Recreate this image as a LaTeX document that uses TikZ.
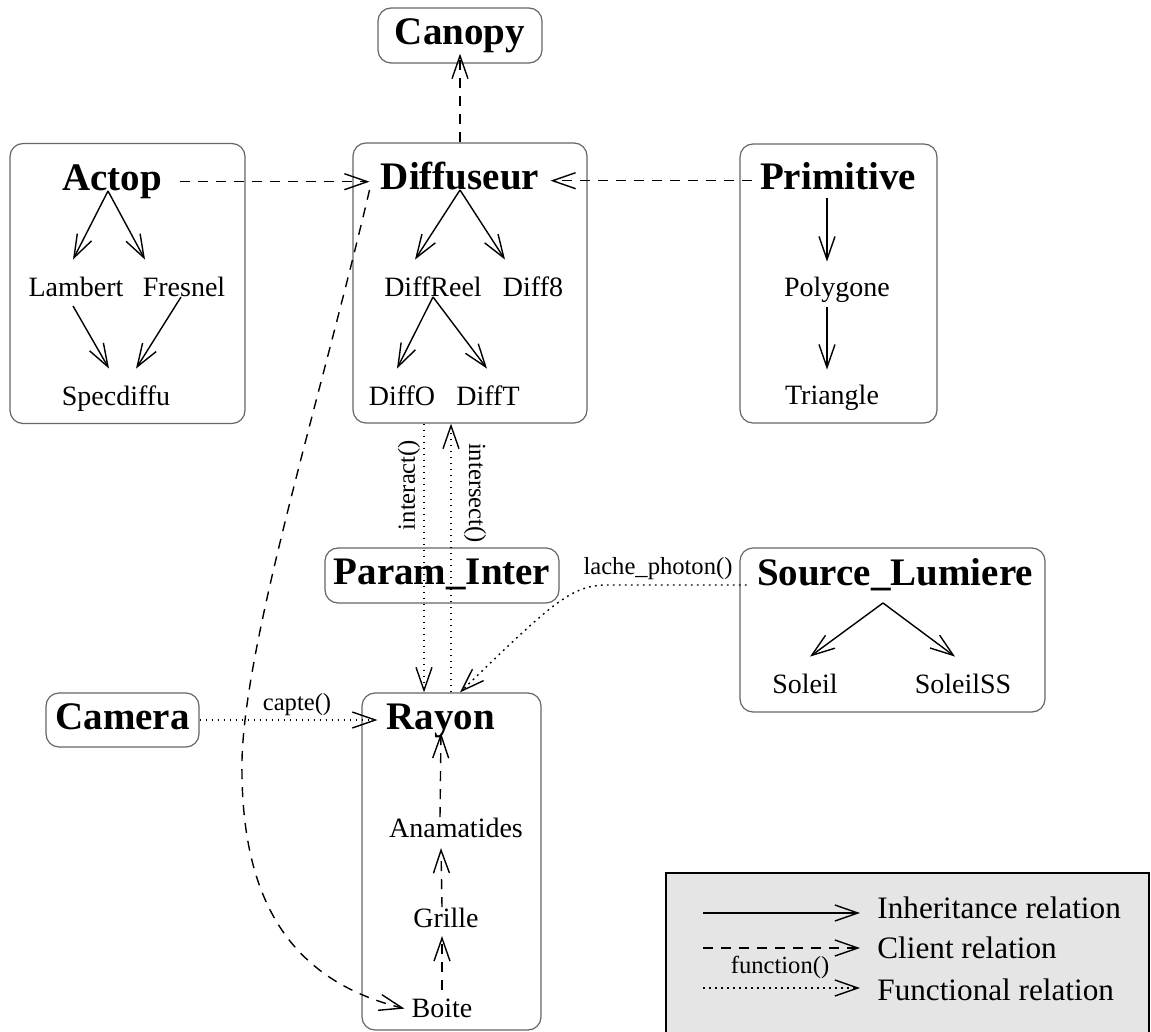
\documentclass[tikz,border=0pt]{standalone}
\usepackage{fontspec}
\setmainfont{Liberation Serif}
\usetikzlibrary{arrows.meta}
\begin{document}
\begin{tikzpicture}[x=0.5pt,y=-0.5pt,
  frame/.style={draw=black!60, line width=0.6pt, rounded corners=6.5pt},
  boxed/.style={frame, font=\fontsize{19.5}{22}\selectfont\bfseries, inner sep=0pt, text height=13.6pt, text depth=4.3pt},
  bigtxt/.style={font=\fontsize{19.5}{22}\selectfont\bfseries, inner sep=0pt, text height=13.6pt, text depth=4.3pt, anchor=base},
  txt/.style={font=\fontsize{14}{16}\selectfont, inner sep=0pt, text height=9.8pt, text depth=3.1pt, anchor=base},
  fnlbl/.style={font=\fontsize{12.3}{14}\selectfont, inner sep=0pt},
  legtxt/.style={font=\fontsize{15.6}{18}\selectfont, inner sep=0pt, anchor=base west},
  barb/.style={-{Straight Barb[length=11.5pt,width=8pt]}},
  inh/.style={barb, line width=0.7pt},
  cli/.style={inh, dash pattern=on 5pt off 4pt},
  fun/.style={inh, dash pattern=on 0.9pt off 2.1pt},
]
\fill[white] (0,0) rectangle (1151,1032);
\useasboundingbox (0,0) rectangle (1151,1032);

% frames
\node[frame, minimum width=117.5pt, minimum height=140pt] (abox) at (127.5,283.5) {};
\node[frame, minimum width=117pt, minimum height=140pt] (dbox) at (470,283) {};
\node[frame, minimum width=98.5pt, minimum height=139.5pt] (pbox) at (838.5,283.5) {};
\node[frame, minimum width=152.5pt, minimum height=82pt] (sbox) at (892.5,630) {};
\node[frame, minimum width=89.5pt, minimum height=168.5pt] (rbox) at (451.5,861.5) {};
\node[boxed, minimum width=82pt, minimum height=27.5pt] (canopy) at (460,35.5) {Canopy};
\node[boxed, minimum width=76.5pt, minimum height=27pt] (camera) at (122.5,720) {Camera};
\node[boxed, minimum width=117pt, minimum height=27.5pt] (param) at (442,575.5) {Param\_Inter};

% legend box
\draw[line width=0.6pt, fill=black!10] (666,873) rectangle (1149,1045);

% labels
\node[bigtxt] (actop) at (112,191) {Actop};
\node[bigtxt] (diff) at (460,190) {Diffuseur};
\node[bigtxt] (prim) at (838,190) {Primitive};
\node[bigtxt] (src) at (895,585) {Source\_Lumiere};
\node[bigtxt] (rayon) at (441,729) {Rayon};

\node[txt] (lambert) at (76,297) {Lambert};
\node[txt] (fresnel) at (184,297) {Fresnel};
\node[txt] (specdiffu) at (116,405) {Specdiffu};
\node[txt] (diffreel) at (433,297) {DiffReel};
\node[txt] (diff8) at (533,297) {Diff8};
\node[txt] (diffo) at (402,405) {DiffO};
\node[txt] (difft) at (488,405) {DiffT};
\node[txt] (polygone) at (837,297) {Polygone};
\node[txt] (triangle) at (832,404) {Triangle};
\node[txt] (soleil) at (805,693) {Soleil};
\node[txt] (soleilss) at (963,693) {SoleilSS};
\node[txt] (anamatides) at (456,837) {Anamatides};
\node[txt] (grille) at (446,927) {Grille};
\node[txt] (boite) at (442,1017) {Boite};

\node[fnlbl, rotate=90] (linteract) at (409,485) {interact()};
\node[fnlbl, rotate=-90] (lintersect) at (475,493) {intersect()};
\node[fnlbl] (llache) at (658,569) {lache\_photon()};
\node[fnlbl] (lcapte) at (297,705) {capte()};

% inheritance
\draw[inh] ([xshift=-2pt]actop.base) -- ([shift={(-1.5pt,8.7pt)}]lambert.north);
\draw[inh] ([xshift=-2pt]actop.base) -- ([shift={(-19.5pt,8.7pt)}]fresnel.north);
\draw[inh] ([shift={(-1.5pt,-4.5pt)}]lambert.base) -- ([shift={(-3.5pt,8.2pt)}]specdiffu.north);
\draw[inh] ([xshift=-1.5pt]fresnel.base) -- ([shift={(10pt,8.2pt)}]specdiffu.north);
\draw[inh] (diff.base) -- ([shift={(-9pt,8.7pt)}]diffreel.north);
\draw[inh] (diff.base) -- ([shift={(-14pt,8.7pt)}]diff8.north);
\draw[inh] (diffreel.base) -- ([shift={(-2.5pt,8.2pt)}]diffo.north);
\draw[inh] (diffreel.base) -- ([shift={(-0.5pt,8.2pt)}]difft.north);
\draw[inh] ([shift={(-5.5pt,-4pt)}]prim.base) -- ([shift={(-5pt,7.7pt)}]polygone.north);
\draw[inh] ([shift={(-5pt,-5pt)}]polygone.base) -- ([shift={(-2.5pt,7.2pt)}]triangle.north);
\draw[inh] ([shift={(-6pt,-9pt)}]src.base) -- ([shift={(2.5pt,8.2pt)}]soleil.north);
\draw[inh] ([shift={(-6pt,-9pt)}]src.base) -- ([shift={(-4pt,8.2pt)}]soleilss.north);

% client
\draw[cli] (dbox.north -| canopy.south) -- ([yshift=5pt]canopy.south);
\draw[cli, shorten <=9pt, shorten >=5.5pt] (actop.east) -- (actop.east -| diff.west);
\draw[cli, shorten <=4pt, shorten >=5.5pt] (prim.west) -- (prim.west -| diff.east);
\draw[cli, shorten >=3.5pt] ([xshift=-5.5pt]diff.base west) .. controls (320,400) and (245,640) .. (242,760) .. controls (240,900) and (290,980) .. (boite.west);
\draw[cli] ([xshift=-8pt]anamatides.north) -- ([yshift=-2pt]rayon.base);
\draw[cli] ([xshift=-2pt]grille.north) -- ([shift={(-7.5pt,-5.5pt)}]anamatides.base);
\draw[cli] ([yshift=3.5pt]boite.north) -- ([shift={(-2pt,-4.5pt)}]grille.base);

% functional
\draw[fun] ([xshift=-23pt]dbox.south) -- ([xshift=-13.75pt]rbox.north);
\draw[fun] ([xshift=-0.25pt]rbox.north) -- ([xshift=-9.5pt]dbox.south);
\draw[fun] ([xshift=-5pt]src.base west) -- (605,585) .. controls (570,586) and (550,605) .. ([xshift=4.25pt]rbox.north);
\draw[fun, shorten >=4.5pt] (camera.east) -- (camera.east -| rayon.west);

% legend
\coordinate (i1) at (703,913); \coordinate (i2) at (860,913);
\coordinate (c1) at (703,948); \coordinate (c2) at (860,948);
\coordinate (f1) at (703,988); \coordinate (f2) at (860,988);
\draw[inh] (i1) -- (i2);
\draw[cli] (c1) -- (c2);
\draw[fun] (f1) -- (f2);
\node[legtxt] (tinh) at (877,918) {Inheritance relation};
\node[legtxt] (tcli) at (877,958) {Client relation};
\node[legtxt] (tfun) at (877,1000) {Functional relation};
\node[fnlbl] (lfunc) at (780,967) {function()};
\end{tikzpicture}
\end{document}
